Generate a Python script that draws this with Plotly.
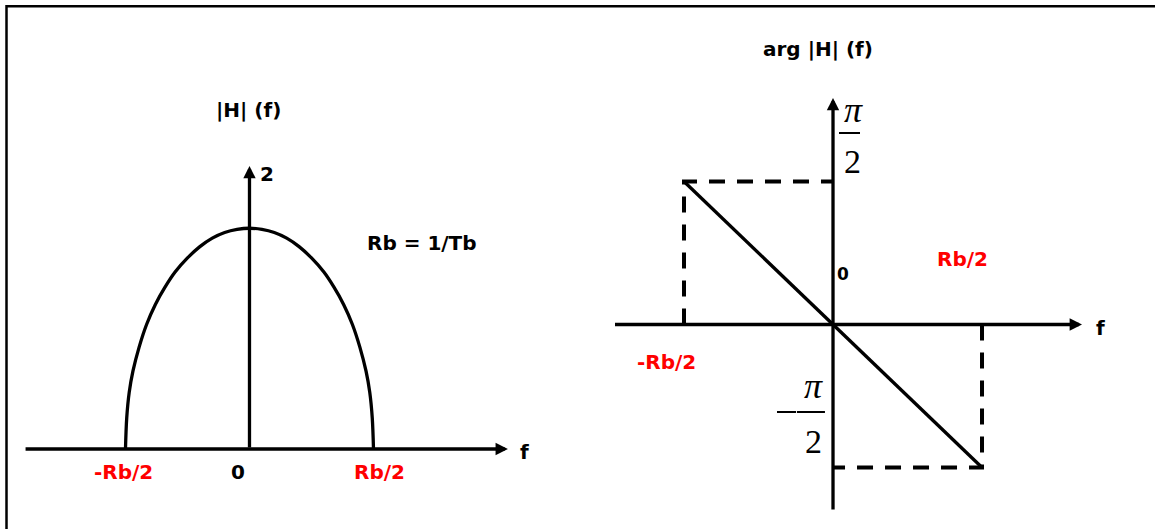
import math
import plotly.graph_objects as go

# ---- data -------------------------------------------------------------
# |H|(f): frequency in units of Rb, magnitude in the units of the |H| axis
mag_f = [-0.5, -0.495, -0.485, -0.47, -0.445, -0.415, -0.38, -0.34, -0.3, -0.25,
         -0.2, -0.15, -0.1, -0.05, 0.0,
         0.05, 0.1, 0.15, 0.2, 0.25, 0.3, 0.34, 0.38, 0.415, 0.445, 0.47,
         0.485, 0.495, 0.5]
mag_h = [0.0, 0.22, 0.4, 0.55, 0.72, 0.88, 1.02, 1.145, 1.25, 1.35,
         1.43, 1.49, 1.53, 1.552, 1.56,
         1.552, 1.53, 1.49, 1.43, 1.35, 1.25, 1.145, 1.02, 0.88, 0.72, 0.55,
         0.4, 0.22, 0.0]
mag_axis_top = 2

# arg H(f): linear phase across the band, in radians
phase_f = [-0.5, 0.0, 0.5]
phase_val = [math.pi / 2, 0.0, -math.pi / 2]

band_labels = ["-Rb/2", "0", "Rb/2"]

# ---- styling ----------------------------------------------------------
BLACK = "#000000"
RED = "#ff0000"
LW = 3.3
SANS = "DejaVu Sans"
SERIF = "Liberation Serif"
FS = 20


def bold(size=FS, color=BLACK):
    return dict(family=SANS, size=size, color=color, weight="bold")


fig = go.Figure()

# magnitude curve
fig.add_trace(go.Scatter(
    x=mag_f, y=mag_h, mode="lines", xaxis="x", yaxis="y",
    line=dict(color=BLACK, width=LW, shape="spline", smoothing=1.0),
    hoverinfo="skip"))

# dashed guides from the band edges to the phase limits
fig.add_trace(go.Scatter(
    x=[phase_f[0], phase_f[0], phase_f[1]],
    y=[0, phase_val[0], phase_val[0]],
    mode="lines", xaxis="x2", yaxis="y2",
    line=dict(color=BLACK, width=4, dash="16px,12px"), hoverinfo="skip"))
fig.add_trace(go.Scatter(
    x=[phase_f[2], phase_f[2], phase_f[1]],
    y=[0, phase_val[2], phase_val[2]],
    mode="lines", xaxis="x2", yaxis="y2",
    line=dict(color=BLACK, width=4, dash="16px,12px"), hoverinfo="skip"))

# phase line
fig.add_trace(go.Scatter(
    x=phase_f, y=phase_val, mode="lines", xaxis="x2", yaxis="y2",
    line=dict(color=BLACK, width=LW), hoverinfo="skip"))

annotations = []


def axis_arrow(x0, y0, x1, y1, xr, yr):
    annotations.append(dict(
        x=x1, y=y1, ax=x0, ay=y0, xref=xr, yref=yr, axref=xr, ayref=yr,
        text="", showarrow=True, arrowhead=2, arrowsize=0.75,
        arrowwidth=LW, arrowcolor=BLACK))


# left panel axes
axis_arrow(-0.909, 0, 1.042, 0, "x", "y")
axis_arrow(0, 0, 0, mag_axis_top, "x", "y")
# right panel axes
axis_arrow(-0.7366, 0, 0.8356, 0, "x2", "y2")
axis_arrow(0, -2.049, 0, 2.488, "x2", "y2")


def label(text, x, y, xr, yr, font, xshift=0, yshift=0):
    annotations.append(dict(
        text=text, x=x, y=y, xref=xr, yref=yr, showarrow=False,
        xanchor="center", yanchor="middle", font=font,
        xshift=xshift, yshift=yshift))


# left panel text
label("|H| (f)", 0, mag_axis_top, "x", "y", bold(), xshift=-1, yshift=56)
label(str(mag_axis_top), 0, mag_axis_top, "x", "y", bold(), xshift=18, yshift=-8)
label("Rb = 1/Tb", 0.6956, 1.456, "x", "y", bold())
label("f", 1.107, 0, "x", "y", bold(), yshift=-3)
label(band_labels[0], mag_f[0], 0, "x", "y", bold(color=RED), xshift=-2, yshift=-23)
label(band_labels[1], 0, 0, "x", "y", bold(), xshift=-11, yshift=-23)
label(band_labels[2], mag_f[-1], 0, "x", "y", bold(color=RED), xshift=6, yshift=-23)

# right panel text
label("arg |H| (f)", -0.05, 3.026, "x2", "y2", bold())
label("0", 0, 0, "x2", "y2", bold(size=17), xshift=10, yshift=51)
label(band_labels[2], 0.436, 0.72, "x2", "y2", bold(color=RED))
label(band_labels[0], -0.559, -0.412, "x2", "y2", bold(color=RED))
label("f", 0.896, -0.04, "x2", "y2", bold())

# +pi/2 and -pi/2 as stacked fractions
PI_FONT = dict(family=SERIF, size=36, color=BLACK, style="italic")
TWO_FONT = dict(family=SERIF, size=34, color=BLACK)
label("π", 0.068, 2.36, "x2", "y2", PI_FONT)
label("2", 0.064, 1.79, "x2", "y2", TWO_FONT)
label("π", -0.067, -0.67, "x2", "y2", PI_FONT)
label("2", -0.067, -1.29, "x2", "y2", TWO_FONT)

shapes = [
    # fraction bars
    dict(type="line", xref="x2", yref="y2", x0=0.020, x1=0.0906, y0=2.103, y1=2.103,
         line=dict(color=BLACK, width=2)),
    dict(type="line", xref="x2", yref="y2", x0=-0.188, x1=-0.124, y0=-0.961, y1=-0.961,
         line=dict(color=BLACK, width=2)),
    dict(type="line", xref="x2", yref="y2", x0=-0.121, x1=-0.027, y0=-0.961, y1=-0.961,
         line=dict(color=BLACK, width=2)),
    # frame
    dict(type="rect", xref="paper", yref="paper", x0=6.5 / 1155, x1=1.02,
         y0=-0.02, y1=1 - 6.3 / 529, line=dict(color=BLACK, width=2.5)),
]

hidden = dict(visible=False, showgrid=False, zeroline=False, fixedrange=True)
fig.update_layout(
    width=1155, height=529,
    margin=dict(l=0, r=0, t=0, b=0),
    paper_bgcolor="white", plot_bgcolor="white",
    showlegend=False,
    font=dict(family=SANS),
    xaxis=dict(domain=[0, 0.5], range=[-1.006, 1.3226], anchor="y", **hidden),
    yaxis=dict(domain=[0, 1], range=[-0.5654, 3.173], anchor="x", **hidden),
    xaxis2=dict(domain=[0.5, 1], range=[-0.8574, 1.0805], anchor="y2", **hidden),
    yaxis2=dict(domain=[0, 1], range=[-2.246, 3.564], anchor="x2", **hidden),
    annotations=annotations,
    shapes=shapes,
)

fig.write_html("out.html")
